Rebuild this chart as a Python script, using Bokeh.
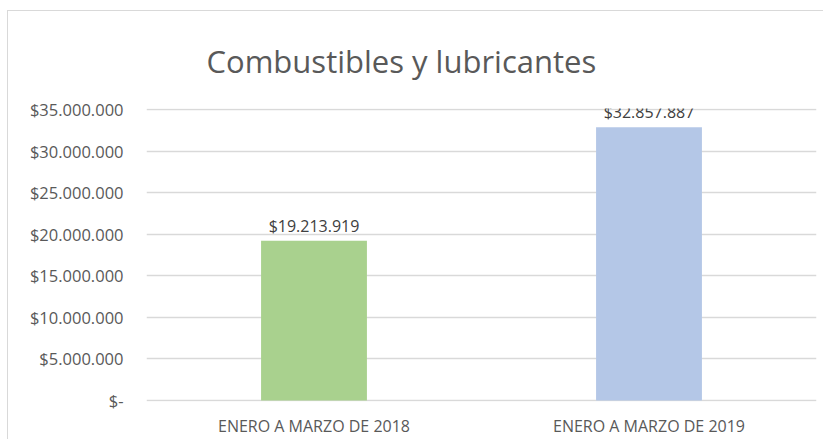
from bokeh.plotting import figure
from bokeh.models import ColumnDataSource, FixedTicker, CustomJSTickFormatter, Range1d, FactorRange
from bokeh.core.properties import value
from bokeh.embed import file_html
from bokeh.resources import INLINE

# ---- data ----
categories = ["ENERO A MARZO DE 2018", "ENERO A MARZO DE 2019"]
amounts = [19213919, 32857887]
bar_colors = ["#A9D18E", "#B4C7E7"]
y_ticks = [0, 5000000, 10000000, 15000000, 20000000, 25000000, 30000000, 35000000]
title_text = "Combustibles y lubricantes"


def fmt(v):
    return "$" + f"{v:,}".replace(",", ".")


labels = [fmt(v) for v in amounts]

FONT = "Open Sans"
px = 35000000 / 291.0

p = figure(
    x_range=FactorRange(*categories, range_padding=0),
    y_range=Range1d(-px, 35000000 + px),
    frame_width=670, frame_height=293,
    min_border_left=138, min_border_right=7, min_border_top=97, min_border_bottom=36,
    output_backend="svg", toolbar_location=None,
)
p.margin = (10, 0, 0, 7)
p.styles = {"border-left": "1px solid #d9d9d9", "border-top": "1px solid #d9d9d9"}
p.outline_line_color = None
p.background_fill_color = "white"
p.border_fill_color = "white"

# title
p.title.text = title_text
p.title.align = "left"
p.title.offset = 60
p.title.standoff = 53
p.title.text_font = FONT
p.title.text_font_size = "31px"
p.title.text_font_style = "normal"
p.title.text_color = "#595959"

src = ColumnDataSource(dict(x=categories, top=amounts, color=bar_colors, label=labels))
p.vbar(x="x", top="top", width=0.316, color="color", line_color=None, source=src)
p.text(x="x", y="top", text="label", source=src, text_align="center", text_baseline="alphabetic",
       y_offset=-15, text_font=value(FONT), text_font_size="16px", text_color="#404040")

# grid
p.xgrid.visible = False
p.ygrid.grid_line_color = "#d9d9d9"
p.ygrid.grid_line_width = 1.3
p.ygrid.ticker = FixedTicker(ticks=y_ticks)

# y axis
p.yaxis.ticker = FixedTicker(ticks=y_ticks)
p.yaxis.formatter = CustomJSTickFormatter(code="""
if (tick == 0) { return "$-"; }
return "$" + Math.round(tick).toString().replace(/\\B(?=(\\d{3})+(?!\\d))/g, ".");
""")
p.yaxis.axis_line_color = None
p.yaxis.major_tick_line_color = None
p.yaxis.minor_tick_line_color = None
p.yaxis.major_label_standoff = 17
p.yaxis.major_label_text_font = FONT
p.yaxis.major_label_text_font_size = "16.5px"
p.yaxis.major_label_text_color = "#595959"

# x axis
p.xaxis.axis_line_color = None
p.xaxis.major_tick_line_color = None
p.xaxis.minor_tick_line_color = None
p.xaxis.major_label_standoff = 7
p.xaxis.major_label_text_font = FONT
p.xaxis.major_label_text_font_size = "16px"
p.xaxis.major_label_text_color = "#595959"

open("out.html", "w").write(file_html(p, INLINE))
